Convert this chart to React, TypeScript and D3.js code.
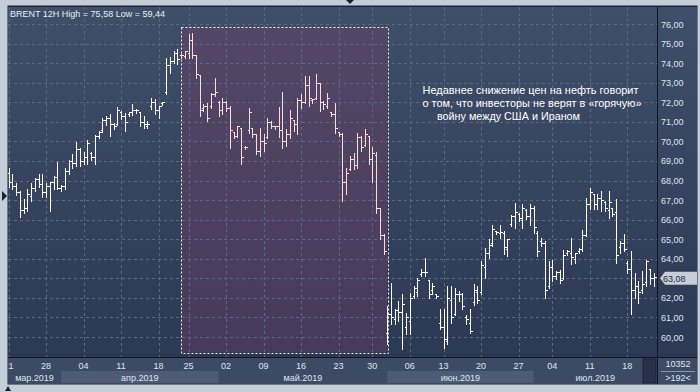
import { scaleLinear } from 'd3';

// BRENT 12H bars (open / high / low / close)
const opens = [
  68.4, 67.9, 67.7, 67.4, 66.5, 66.6, 67.2, 67.6, 68.1, 67.8, 67.4, 67.7, 67.9, 68.2, 67.6, 67.7, 68.5, 69.0, 68.9, 69.6,
  69.0, 69.2, 69.4, 69.2, 70.3, 70.6, 71.1, 71.2, 70.9, 70.9, 71.5, 71.3, 71.4, 71.5, 71.6, 71.5, 71.0, 70.8, 71.8, 72.0,
  71.6, 71.95, 72.5, 73.9, 74.1, 74.5, 74.4, 74.35, 74.5, 75.2, 74.4, 73.4, 71.7, 71.8, 71.8, 72.4, 72.0, 71.6, 72.0, 71.7,
  70.5, 70.3, 70.7, 69.7, 70.6, 70.7, 70.4, 69.5, 70.0, 70.2, 71.0, 70.8, 70.8, 70.6, 70.0, 70.4, 71.1, 70.9, 72.1, 72.0,
  72.9, 72.1, 72.2, 73.0, 72.0, 71.8, 71.5, 71.4, 70.5, 70.4, 67.9, 68.6, 69.1, 68.8, 70.2, 69.8, 70.3, 69.1, 69.3, 66.6,
  65.2, 60.2, 61.2, 60.9, 61.4, 61.3, 60.5, 60.8, 62.1, 62.3, 63.2, 63.3, 62.9, 62.4, 62.2, 60.7, 60.5, 59.8, 61.9, 61.2,
  62.2, 62.2, 61.0, 60.7, 61.8, 62.3, 62.3, 63.6, 64.3, 64.8, 65.4, 65.3, 65.3, 64.5, 65.8, 66.2, 66.3, 66.0, 66.5, 66.2,
  66.6, 65.3, 64.9, 64.8, 62.6, 63.6, 63.1, 63.3, 63.0, 64.3, 64.3, 64.0, 64.4, 64.5, 65.2, 66.8, 67.3, 66.8, 67.1, 66.9,
  66.5, 66.6, 66.4, 64.6, 64.8, 63.8, 63.5, 62.4, 62.6, 62.4, 62.8, 63.5, 63.0
];
const highs = [
  68.7, 68.4, 67.9, 67.5, 67.1, 67.6, 67.9, 68.2, 68.4, 68.4, 67.9, 68.0, 68.3, 69.0, 67.8, 68.7, 69.1, 69.4, 70.0, 69.7,
  69.5, 70.1, 69.5, 70.4, 70.6, 71.25, 71.35, 71.45, 71.0, 71.8, 71.6, 71.5, 71.55, 71.96, 71.7, 71.5, 71.35, 71.1, 72.25, 72.2,
  71.85, 72.05, 74.3, 74.35, 74.67, 74.77, 74.5, 74.67, 75.55, 75.58, 74.4, 73.4, 71.95, 72.0, 72.5, 73.3, 72.1, 72.27, 72.1, 71.85,
  70.5, 70.85, 70.75, 69.8, 71.75, 70.75, 70.45, 70.75, 70.45, 71.25, 71.1, 70.85, 71.8, 72.6, 70.7, 71.65, 71.1, 72.25, 72.45, 73.4,
  73.4, 72.2, 73.5, 73.0, 72.1, 72.5, 71.5, 72.0, 70.5, 70.5, 68.7, 69.3, 69.45, 70.5, 70.35, 70.7, 70.3, 69.75, 69.5, 66.65,
  65.3, 61.65, 62.8, 61.5, 61.9, 62.25, 61.3, 62.3, 62.65, 63.05, 63.55, 64.1, 62.9, 62.8, 62.25, 61.5, 61.5, 62.65, 62.65, 62.55,
  62.4, 62.3, 61.2, 61.5, 62.75, 62.65, 63.95, 64.6, 65.05, 65.8, 65.4, 65.8, 65.45, 65.05, 66.3, 66.9, 66.4, 66.85, 66.6, 66.85,
  66.75, 65.45, 65.1, 64.95, 63.93, 64.0, 63.4, 63.5, 64.5, 64.5, 65.1, 64.35, 64.6, 65.5, 67.15, 67.65, 67.3, 67.35, 67.5, 67.0,
  67.5, 66.65, 67.1, 64.95, 65.3, 63.95, 64.45, 63.3, 62.9, 63.4, 64.0, 63.5, 63.3
];
const lows = [
  67.7, 67.6, 67.3, 66.2, 66.4, 66.5, 67.0, 67.5, 67.7, 67.2, 67.2, 66.5, 67.6, 67.6, 67.5, 67.6, 68.4, 68.7, 68.8, 68.8,
  68.9, 68.9, 69.1, 68.9, 70.2, 70.55, 70.9, 70.35, 70.7, 70.9, 71.2, 70.6, 71.35, 71.4, 71.5, 70.85, 70.75, 70.75, 71.7, 71.45,
  71.25, 71.9, 72.45, 73.55, 74.06, 74.0, 74.3, 74.3, 74.3, 74.3, 73.3, 71.35, 71.6, 71.1, 71.75, 72.35, 71.35, 71.45, 71.6, 69.7,
  70.2, 70.3, 68.9, 69.65, 70.5, 70.3, 69.4, 69.3, 69.55, 70.2, 70.75, 70.7, 70.3, 69.7, 69.8, 70.2, 70.6, 70.45, 71.75, 72.0,
  71.85, 72.0, 72.2, 71.6, 71.7, 71.75, 71.35, 70.5, 70.35, 67.0, 67.35, 68.6, 68.65, 68.7, 69.55, 69.8, 68.9, 68.0, 66.4, 65.05,
  64.3, 59.7, 60.7, 60.7, 60.85, 59.44, 60.2, 60.2, 62.05, 62.15, 63.15, 63.15, 62.05, 62.25, 62.05, 60.45, 59.5, 59.7, 60.75, 61.2,
  61.9, 61.5, 60.7, 60.25, 61.7, 61.8, 62.25, 63.05, 64.1, 64.7, 65.3, 65.1, 64.3, 64.2, 65.7, 65.6, 66.0, 65.6, 66.1, 65.8,
  65.35, 64.2, 64.7, 62.05, 62.55, 62.9, 63.0, 62.8, 63.0, 64.25, 63.8, 63.85, 64.35, 64.45, 65.2, 66.6, 66.6, 66.6, 66.5, 66.5,
  66.15, 66.25, 63.85, 64.35, 64.45, 63.3, 61.25, 62.05, 61.8, 62.3, 62.65, 62.75, 62.65
];
const closes = [
  67.9, 67.7, 67.4, 66.5, 66.6, 67.3, 67.6, 68.1, 67.8, 67.4, 67.7, 67.9, 68.2, 67.6, 67.7, 68.5, 69.0, 68.9, 69.6, 69.0,
  69.2, 69.9, 69.2, 70.3, 70.5, 71.1, 71.2, 70.9, 70.8, 71.6, 71.3, 71.0, 71.5, 71.6, 71.6, 71.0, 70.9, 70.9, 72.0, 71.6,
  71.8, 72.0, 73.9, 74.1, 74.5, 74.2, 74.4, 74.6, 75.2, 74.4, 73.45, 71.6, 71.8, 71.2, 72.4, 72.5, 71.6, 72.0, 71.7, 70.6,
  70.3, 70.8, 69.2, 69.7, 71.5, 70.4, 69.5, 70.0, 69.9, 71.0, 70.8, 70.8, 70.6, 70.0, 70.4, 71.2, 70.9, 72.1, 72.0, 72.9,
  72.2, 72.15, 73.0, 72.0, 71.9, 72.2, 71.4, 70.7, 70.4, 67.9, 68.4, 69.1, 68.8, 70.2, 69.7, 70.4, 69.1, 69.4, 66.6, 65.2,
  64.4, 61.2, 61.0, 61.4, 61.3, 61.7, 61.0, 62.0, 62.5, 62.9, 63.3, 63.3, 62.2, 62.6, 62.1, 60.5, 59.9, 62.0, 61.0, 62.2,
  62.2, 61.6, 60.9, 60.3, 62.4, 61.9, 63.7, 64.3, 64.7, 65.5, 65.35, 65.35, 64.6, 65.0, 66.2, 66.4, 66.1, 66.6, 66.2, 66.6,
  65.6, 64.4, 64.8, 62.4, 63.6, 63.1, 63.3, 62.9, 64.2, 64.4, 64.1, 64.3, 64.5, 65.2, 66.8, 67.4, 66.8, 67.1, 67.0, 66.6,
  66.9, 66.3, 64.2, 64.8, 64.5, 63.5, 62.4, 62.6, 62.3, 62.7, 63.9, 63.0, 63.08
];

const dayTicks = ['21', '28', '04', '11', '18', '25', '02', '09', '16', '23', '30', '06', '13', '20', '27', '04', '11', '18'];
const dayTickBars = [0, 10, 20, 30, 40, 48, 58, 68, 78, 88, 97, 107, 116, 126, 136, 145, 155, 165];
const months = ['мар.2019', 'апр.2019', 'май.2019', 'июн.2019', 'июл.2019'];
const monthStartBars = [0, 14, 56, 101, 140];
const priceTicks = [60, 61, 62, 63, 64, 65, 66, 67, 68, 69, 70, 71, 72, 73, 74, 75, 76];
const highlightBars = [46, 100];
const highlightPrices = [75.85, 59.2];
const lastPrice = 63.08;
const noteLines = [
  'Недавнее снижение цен на нефть говорит',
  'о том, что инвесторы не верят в «горячую»',
  'войну между США и Ираном'
];

const FONT = '"Liberation Sans", Arial, sans-serif';

function App(): JSX.Element {
  const left = 8;
  const right = 657;
  const top = 7;
  const bottom = 357;
  const axisBottom = 384;
  const panelRight = 697;

  const n = opens.length;
  const x = scaleLinear().domain([0, n - 1]).range([8.5, 8.5 + 3.75 * (n - 1)]);
  const y = scaleLinear().domain([60, 76]).range([337, 24]);
  const px = (i: number) => Math.round(x(i)) + 0.5;
  const py = (v: number) => Math.round(y(v)) + 0.5;

  const hx0 = x(highlightBars[0]) - 0.5;
  const hx1 = x(highlightBars[1]) + 3.75;
  const hy0 = y(highlightPrices[0]);
  const hy1 = y(highlightPrices[1]);

  const monthEdges = monthStartBars.map((b, i) => (i === 0 ? left : x(b)));
  monthEdges.push(right);

  const tagY = y(lastPrice) + 1.5;
  // the price tag hides the axis label it sits on
  const axisLabels = priceTicks.filter((p) => Math.abs(y(p) - tagY) > 9);

  return (
    <svg
      width={700}
      height={392}
      style={{ position: 'absolute', left: 0, top: 0 }}
      fontFamily={FONT}
    >
      <defs>
        <linearGradient id="bg" x1="0" y1="0" x2="0" y2="1">
          <stop offset="0%" stopColor="#3f4e69" />
          <stop offset="100%" stopColor="#2c3954" />
        </linearGradient>
        <clipPath id="plotClip">
          <rect x={left} y={top} width={right - left} height={bottom - top} />
        </clipPath>
        <clipPath id="axisClip">
          <rect x={left} y={bottom} width={right - left} height={axisBottom - bottom} />
        </clipPath>
      </defs>

      {/* outer frame */}
      <rect x={0} y={0} width={700} height={392} fill="#c4ced9" />
      <rect x={left - 0.5} y={top - 1.5} width={panelRight - left + 1} height={axisBottom - top + 2} fill="#1d2433" />
      <rect x={left} y={top} width={panelRight - left} height={bottom - top} fill="url(#bg)" />
      <rect x={left} y={bottom} width={panelRight - left} height={axisBottom - bottom} fill="#3d4a64" />

      {/* highlight zone */}
      <rect x={hx0} y={hy0} width={hx1 - hx0} height={hy1 - hy0} fill="#7a3d63" opacity={0.35} />

      {/* grid */}
      <g clipPath="url(#plotClip)" stroke="#5a6a85" strokeDasharray="3 3" strokeWidth={1}>
        {priceTicks.map((p) => (
          <line key={p} x1={left} x2={right} y1={py(p)} y2={py(p)} />
        ))}
        {dayTickBars.map((b, i) => (
          <line key={i} x1={px(b)} x2={px(b)} y1={top} y2={bottom} />
        ))}
      </g>

      <rect
        x={Math.round(hx0) + 0.5}
        y={Math.round(hy0) + 0.5}
        width={Math.round(hx1 - hx0)}
        height={Math.round(hy1 - hy0)}
        fill="none"
        stroke="#f2f2f2"
        strokeDasharray="2 2"
      />

      {/* OHLC bars */}
      <g clipPath="url(#plotClip)" strokeWidth={1} shapeRendering="crispEdges">
        {opens.map((o, i) => {
          const cx = px(i);
          const inZone = i >= highlightBars[0] && i <= highlightBars[1];
          const c = inZone ? '#ffdcdc' : '#ffffff';
          return (
            <g key={i} stroke={c}>
              <line x1={cx} x2={cx} y1={py(highs[i])} y2={py(lows[i]) + 1} />
              <line x1={cx - 2} x2={cx} y1={py(o)} y2={py(o)} />
              <line x1={cx} x2={cx + 2} y1={py(closes[i])} y2={py(closes[i])} />
            </g>
          );
        })}
      </g>

      {/* header */}
      <text x={10} y={17} fontSize={9} fill="#e8eef5">
        BRENT 12H High = 75,58 Low = 59,44
      </text>

      {/* note */}
      <g fill="#ffffff" fontSize={11}>
        <text x={422.5} y={94} textLength={216} lengthAdjust="spacingAndGlyphs">
          {noteLines[0]}
        </text>
        <text x={422.5} y={107} textLength={219} lengthAdjust="spacingAndGlyphs">
          {noteLines[1]}
        </text>
        <text x={437} y={120} textLength={143} lengthAdjust="spacingAndGlyphs">
          {noteLines[2]}
        </text>
      </g>

      {/* right axis */}
      <line x1={right + 0.5} x2={right + 0.5} y1={top} y2={axisBottom} stroke="#111722" />
      <g fontSize={9} fill="#dde6f0">
        {axisLabels.map((p) => (
          <text key={p} x={661} y={y(p) + 3.5}>
            {p.toFixed(2).replace('.', ',')}
          </text>
        ))}
      </g>
      <polygon
        points={`660,${tagY} 665,${tagY - 6.5} ${panelRight},${tagY - 6.5} ${panelRight},${tagY + 6.5} 665,${tagY + 6.5}`}
        fill="#c8ced8"
      />
      <text x={663} y={tagY + 3.5} fontSize={9} fill="#1a2844">
        {lastPrice.toFixed(2).replace('.', ',')}
      </text>

      {/* date axis */}
      <line x1={left} x2={panelRight} y1={bottom + 0.5} y2={bottom + 0.5} stroke="#111722" />
      <g clipPath="url(#axisClip)">
        {months.map((m, i) => (
          <g key={m}>
            {i % 2 === 1 && (
              <rect x={monthEdges[i]} y={371} width={monthEdges[i + 1] - monthEdges[i]} height={12} fill="#4d5b75" />
            )}
            <text
              x={(monthEdges[i] + monthEdges[i + 1]) / 2}
              y={380.5}
              fontSize={9}
              fill="#dde6f0"
              textAnchor="middle"
            >
              {m}
            </text>
          </g>
        ))}
        {dayTicks.map((d, i) => (
          <text key={i} x={x(dayTickBars[i])} y={369} fontSize={9} fill="#dde6f0" textAnchor="middle">
            {d}
          </text>
        ))}
      </g>
      <rect x={643} y={359} width={13} height={24} fill="#27324a" stroke="#1d2433" />
      <g fontSize={9} fill="#dde6f0" textAnchor="middle">
        <text x={678} y={367}>10352</text>
        <text x={678} y={381}>&gt;192&lt;</text>
      </g>
      <line x1={661} x2={695} y1={371.5} y2={371.5} stroke="#8a96aa" />

      {/* frame markers */}
      <polygon points="2,191 7,196 2,201" fill="#1a2030" />
      <polygon points="346,0 354,0 350,4" fill="#1a2030" />
      <polygon points="5,391 11,391 8,386" fill="#1a2030" />
    </svg>
  );
}

export default App;
